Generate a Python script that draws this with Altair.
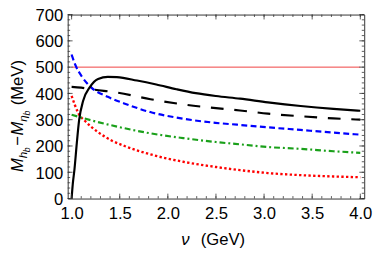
import altair as alt
import pandas as pd

# ---- data ----
solid_x = [1.0, 1.012, 1.03, 1.054, 1.078, 1.12, 1.19, 1.275, 1.376, 1.47, 1.68, 1.88, 2.09, 2.29, 2.5, 2.75, 3.04, 3.38, 3.72, 4.0]
solid_y = [0, 55, 112, 211, 298, 372, 424, 455, 463, 462, 449, 434, 416, 401, 390, 380, 366, 352, 341, 334]

ldash_x = [1.0, 1.1, 1.2, 1.48, 1.82, 2.16, 2.5, 2.75, 3.04, 3.38, 3.72, 4.0]
ldash_y = [425, 422, 416, 403, 378, 358, 344, 335, 323, 313, 305, 300]

blue_x = [1.0, 1.038, 1.105, 1.206, 1.376, 1.546, 1.817, 2.156, 2.495, 2.72, 3.037, 3.377, 3.715, 4.0]
blue_y = [548, 509, 465, 422, 387, 362, 329, 304, 288, 281, 271, 261, 251, 243]

green_x = [1.0, 1.2, 1.48, 1.82, 2.16, 2.5, 2.7, 3.04, 3.38, 3.72, 4.0]
green_y = [319, 298, 273, 248, 230, 215, 208, 196, 189, 180, 174]

red_x = [1.0, 1.035, 1.07, 1.14, 1.27, 1.41, 1.55, 1.82, 2.16, 2.5, 2.75, 3.04, 3.38, 3.72, 4.0]
red_y = [391, 355, 325, 295, 254, 222, 200, 168, 140, 120, 108, 97, 89, 84, 81]

thr_x = [1.0, 4.0]
thr_y = [500, 500]

x_major = [1.0, 1.5, 2.0, 2.5, 3.0, 3.5, 4.0]
x_minor = [round(1.0 + 0.1 * i, 1) for i in range(31)]
y_major = [0, 100, 200, 300, 400, 500, 600, 700]
y_minor = list(range(0, 701, 20))

W, H = 303, 188
XDOM = [0.9593, 4.0407]
FONT = "Liberation Sans"


def frame(xs, ys):
    return pd.DataFrame({"x": xs, "y": ys})


X = alt.X("x:Q", scale=alt.Scale(domain=XDOM, nice=False, zero=False),
          axis=alt.Axis(values=x_major, format=".1f", ticks=False, domain=False, grid=False,
                        labelFont=FONT, labelFontSize=17, labelColor="black",
                        labelPadding=7, labelFlush=False, title=None))
Y = alt.Y("y:Q", scale=alt.Scale(domain=[0, 700], nice=False, zero=False),
          axis=alt.Axis(values=y_major, format="d", ticks=False, domain=False, grid=False,
                        labelFont=FONT, labelFontSize=17, labelColor="black",
                        labelPadding=5, labelOffset=1, title=None))


def line(xs, ys, color, width, dash=None):
    kw = dict(color=color, strokeWidth=width, interpolate="monotone")
    if dash:
        kw["strokeDash"] = dash
    return alt.Chart(frame(xs, ys)).mark_line(**kw).encode(x=X, y=Y)


layers = [
    line(thr_x, thr_y, "#f04040", 1.0),
    line(red_x, red_y, "#ff0000", 2.4, [2.4, 2.4]),
    line(green_x, green_y, "#1aa01a", 2.2, [6, 3, 2, 3]),
    line(blue_x, blue_y, "#0000ff", 2.2, [6, 3.5]),
    line(ldash_x, ldash_y, "#000000", 2.2, [13, 11]),
    line(solid_x, solid_y, "#000000", 2.2),
]

tick_col = "#333333"


def xticks(vals, L):
    d = pd.DataFrame({"x": vals})
    b = alt.Chart(d).mark_rule(color=tick_col, strokeWidth=0.8).encode(x=X, y=alt.value(H), y2=alt.value(H - L))
    t = alt.Chart(d).mark_rule(color=tick_col, strokeWidth=0.8).encode(x=X, y=alt.value(0), y2=alt.value(L))
    return [b, t]


def yticks(vals, L):
    d = pd.DataFrame({"y": vals})
    l = alt.Chart(d).mark_rule(color=tick_col, strokeWidth=0.8).encode(y=Y, x=alt.value(0), x2=alt.value(L))
    r = alt.Chart(d).mark_rule(color=tick_col, strokeWidth=0.8).encode(y=Y, x=alt.value(W), x2=alt.value(W - L))
    return [l, r]


layers += xticks(x_minor, 2.5) + xticks(x_major, 5)
layers += yticks(y_minor, 2.5) + yticks(y_major, 5)


def txt(s, x, y, size, italic=False, angle=0, align="left"):
    d = pd.DataFrame({"t": [s]})
    return alt.Chart(d).mark_text(font=FONT, fontSize=size, fontStyle="italic" if italic else "normal",
                                  angle=angle, align=align, baseline="alphabetic", color="black").encode(
        text="t:N", x=alt.value(x), y=alt.value(y))


# y-axis title, rotated
bx = -46
pieces = [("M", 17, True, 0, 14.2), ("h", 12, True, 4, 6.2), ("b", 9, True, 7, 5.5),
          ("\u2212", 17, False, 0, 10.5), ("M", 17, True, 0, 14.2), ("\u03b7", 12, True, 4, 6.2),
          ("b", 9, True, 7, 5.5), ("(MeV)", 17, False, 0, 47)]
ypos = 161
for s, size, it, dx, w in pieces:
    if s == "(MeV)":
        ypos -= 5
    if s == "\u2212":
        ypos -= 1
    layers.append(txt(s, bx + dx, ypos, size, it, angle=270))
    ypos -= w

# x-axis title
layers.append(txt("\u03bd", 116, 235, 17, True))
layers.append(txt("(GeV)", 136, 235, 17, False))

chart = alt.layer(*layers).properties(
    width=W, height=H,
    autosize=alt.AutoSizeParams(type="none"),
    padding={"left": 61, "top": 4, "right": 10, "bottom": 56},
).configure_view(stroke="#333333", strokeWidth=1)

chart.save("out.html", embed_options={"renderer": "svg", "actions": False})
